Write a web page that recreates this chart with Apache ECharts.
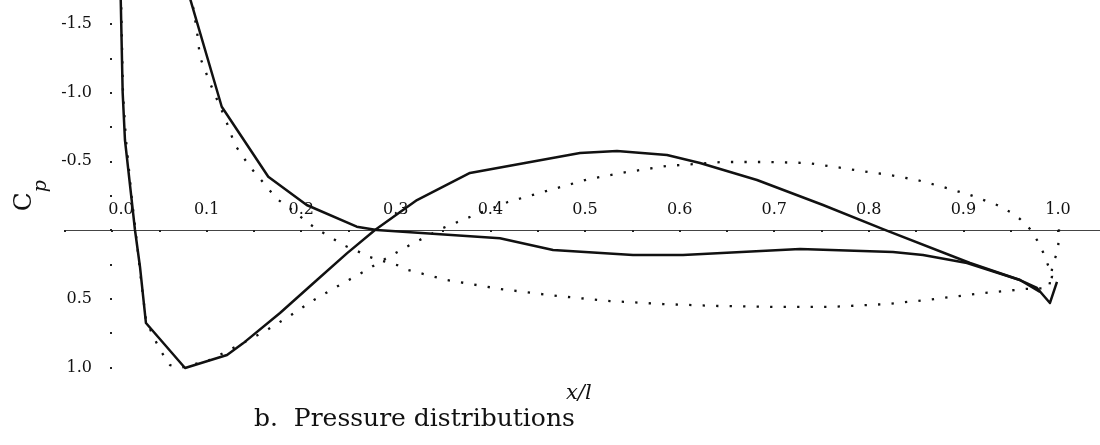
<!DOCTYPE html>
<html>
<head>
<meta charset="utf-8">
<script src="https://cdn.jsdelivr.net/npm/echarts@6/dist/echarts.min.js"></script>
<style>
  html, body { margin: 0; padding: 0; background: #ffffff; }
  #chart { width: 1100px; height: 445px; }
</style>
</head>
<body>
<div id="chart"></div>
<script>
// Pressure coefficient Cp against chordwise position x/l (Cp axis inverted).
// Each curve is a list of [x/l, Cp] pairs.

// solid curve starting at the leading edge
const solidCurve1 = [
  [0.0091, -1.72], [0.0113, -0.997], [0.0137, -0.655], [0.0208, -0.218],
  [0.0243, 0.0], [0.0296, 0.269], [0.0359, 0.677], [0.0772, 1.004],
  [0.1216, 0.910], [0.1385, 0.825], [0.1776, 0.604], [0.2125, 0.389],
  [0.2483, 0.170], [0.2780, 0.0], [0.3224, -0.218], [0.3784, -0.415],
  [0.4947, -0.560], [0.5338, -0.575], [0.5867, -0.546], [0.6216, -0.488],
  [0.6818, -0.364], [0.7516, -0.182], [0.8150, -0.007], [0.9070, 0.240],
  [0.9598, 0.364], [0.9778, 0.422], [0.9915, 0.531], [0.9989, 0.378]
];

// solid curve starting near x/l = 0.08
const solidCurve2 = [
  [0.0810, -1.72], [0.1160, -0.897], [0.1652, -0.388], [0.2058, -0.182],
  [0.2587, -0.024], [0.2798, 0.0], [0.4101, 0.060], [0.4662, 0.146],
  [0.5507, 0.182], [0.6036, 0.182], [0.7273, 0.138], [0.8256, 0.160],
  [0.8573, 0.182], [0.9038, 0.240], [0.9598, 0.364], [0.9810, 0.451]
];

// dotted curve following solidCurve1
const dottedCurve1 = [
  [0.0095, -1.72], [0.0116, -0.997], [0.0148, -0.655], [0.0211, -0.218],
  [0.0248, 0.0], [0.0307, 0.364], [0.0359, 0.655], [0.0455, 0.801],
  [0.0529, 0.895], [0.0613, 0.983], [0.0719, 1.004], [0.1036, 0.946],
  [0.1385, 0.822], [0.1638, 0.728], [0.1892, 0.619], [0.2135, 0.509],
  [0.2389, 0.408], [0.2653, 0.306], [0.2886, 0.211], [0.3150, 0.109],
  [0.3499, -0.015], [0.3784, -0.095], [0.4186, -0.204], [0.4630, -0.291],
  [0.5042, -0.371], [0.5444, -0.422], [0.5867, -0.466], [0.6459, -0.495],
  [0.6903, -0.495], [0.7347, -0.488], [0.7643, -0.459], [0.7928, -0.429],
  [0.8224, -0.400], [0.8510, -0.364], [0.8784, -0.313], [0.9070, -0.255],
  [0.9355, -0.182], [0.9493, -0.131], [0.9598, -0.080], [0.9704, -0.007],
  [0.9778, 0.073], [0.9841, 0.160], [0.9894, 0.255], [0.9937, 0.335],
  [0.9915, 0.422]
];

// dotted curve following solidCurve2
const dottedCurve2 = [
  [0.0835, -1.72], [0.0899, -1.441], [0.0930, -1.259], [0.0983, -1.164],
  [0.1036, -1.070], [0.1089, -0.983], [0.1195, -0.815], [0.1300, -0.619],
  [0.1459, -0.459], [0.1638, -0.313], [0.1744, -0.226], [0.1934, -0.131],
  [0.2072, -0.051], [0.2199, 0.007], [0.2326, 0.058], [0.2442, 0.109],
  [0.2569, 0.146], [0.2727, 0.197], [0.2865, 0.226], [0.3013, 0.255],
  [0.3129, 0.291], [0.3541, 0.364], [0.4101, 0.429], [0.4704, 0.480],
  [0.5264, 0.517], [0.5825, 0.539], [0.6406, 0.553], [0.7008, 0.560],
  [0.7590, 0.560], [0.8192, 0.539], [0.8615, 0.509], [0.9207, 0.459],
  [0.9662, 0.429], [0.9905, 0.422], [0.9947, 0.240], [1.0000, 0.153],
  [1.0011, -0.007]
];

// tick labels
const xTickLabels = [0.0, 0.1, 0.2, 0.3, 0.4, 0.5, 0.6, 0.7, 0.8, 0.9, 1.0];
const yTickLabels = [-1.5, -1.0, -0.5, 0.5, 1.0];

const chartTitle = 'b.  Pressure distributions';
const xName = 'x/l';

const SERIF = '"DejaVu Serif", "Liberation Serif", serif';
const INK = '#111111';

// plot frame: x from -0.05 to 1.05, Cp from -1.5 (top) to 1.0 (bottom)
const X_MIN = -0.05, X_MAX = 1.05, Y_MIN = -1.5, Y_MAX = 1.0;
const GRID = { left: 64.7, top: 23.9, width: 1040.6, height: 343.5 };
const pxPerX = GRID.width / (X_MAX - X_MIN);
const pxPerY = GRID.height / (Y_MAX - Y_MIN);
// axes cross at x = 0, Cp = 0
const yAxisOffset = -(0 - X_MIN) * pxPerX;
const xAxisOffset = -(Y_MAX - 0) * pxPerY;

function hasTick(list, v) {
  return list.some(t => Math.abs(t - v) < 1e-6);
}

function solid(data) {
  return {
    type: 'line', data: data, symbol: 'none', clip: false, silent: true,
    lineStyle: { color: INK, width: 2.5, join: 'round' }
  };
}
function dotted(data) {
  return {
    type: 'line', data: data, symbol: 'none', clip: false, silent: true,
    lineStyle: { color: INK, width: 2.3, type: [2.3, 11.2] }
  };
}

const chart = echarts.init(document.getElementById('chart'), null, { renderer: 'canvas' });
chart.setOption({
  animation: false,
  backgroundColor: '#ffffff',
  title: [
    {
      text: xName, left: 561, top: 378,
      textStyle: { fontFamily: SERIF, fontStyle: 'italic', fontWeight: 'normal', fontSize: 21, color: INK }
    },
    {
      text: chartTitle, left: 249, top: 402,
      textStyle: { fontFamily: SERIF, fontWeight: 'normal', fontSize: 25, color: INK }
    }
  ],
  grid: Object.assign({ containLabel: false, outerBoundsMode: 'none' }, GRID),
  xAxis: {
    type: 'value', min: X_MIN, max: X_MAX, interval: 0.05,
    position: 'bottom', offset: xAxisOffset,
    axisLine: { show: true, onZero: false, lineStyle: { color: '#444', width: 1.2 } },
    axisTick: { show: true, length: 2, lineStyle: { color: '#222', width: 2 } },
    splitLine: { show: false },
    axisLabel: {
      inside: true, margin: 12, fontFamily: SERIF, fontSize: 16, color: INK,
      showMinLabel: true, showMaxLabel: true,
      rich: { origin: { fontFamily: SERIF, fontSize: 16, color: INK, padding: [0, 0, 0, 18] } },
      formatter: v => {
        if (!hasTick(xTickLabels, v)) return '';
        return Math.abs(v) < 1e-6 ? '{origin|' + v.toFixed(1) + '}' : v.toFixed(1);
      }
    }
  },
  yAxis: {
    type: 'value', inverse: true, min: Y_MIN, max: Y_MAX, interval: 0.25,
    position: 'left', offset: yAxisOffset,
    name: '{c|C}{p|p}', nameLocation: 'middle', nameGap: 61, nameRotate: 90,
    nameTextStyle: {
      rich: {
        c: { fontFamily: SERIF, fontSize: 25, color: INK, verticalAlign: 'top', lineHeight: 28 },
        p: { fontFamily: SERIF, fontStyle: 'italic', fontSize: 19, color: INK, verticalAlign: 'bottom', lineHeight: 38 }
      }
    },
    axisLine: { show: false, onZero: false },
    axisTick: { show: true, length: 2, lineStyle: { color: '#222', width: 2 } },
    splitLine: { show: false },
    axisLabel: {
      margin: 20, fontFamily: SERIF, fontSize: 16, color: INK,
      formatter: v => hasTick(yTickLabels, v) ? v.toFixed(1) : ''
    }
  },
  series: [
    dotted(dottedCurve1),
    dotted(dottedCurve2),
    solid(solidCurve1),
    solid(solidCurve2)
  ]
});
</script>
</body>
</html>
